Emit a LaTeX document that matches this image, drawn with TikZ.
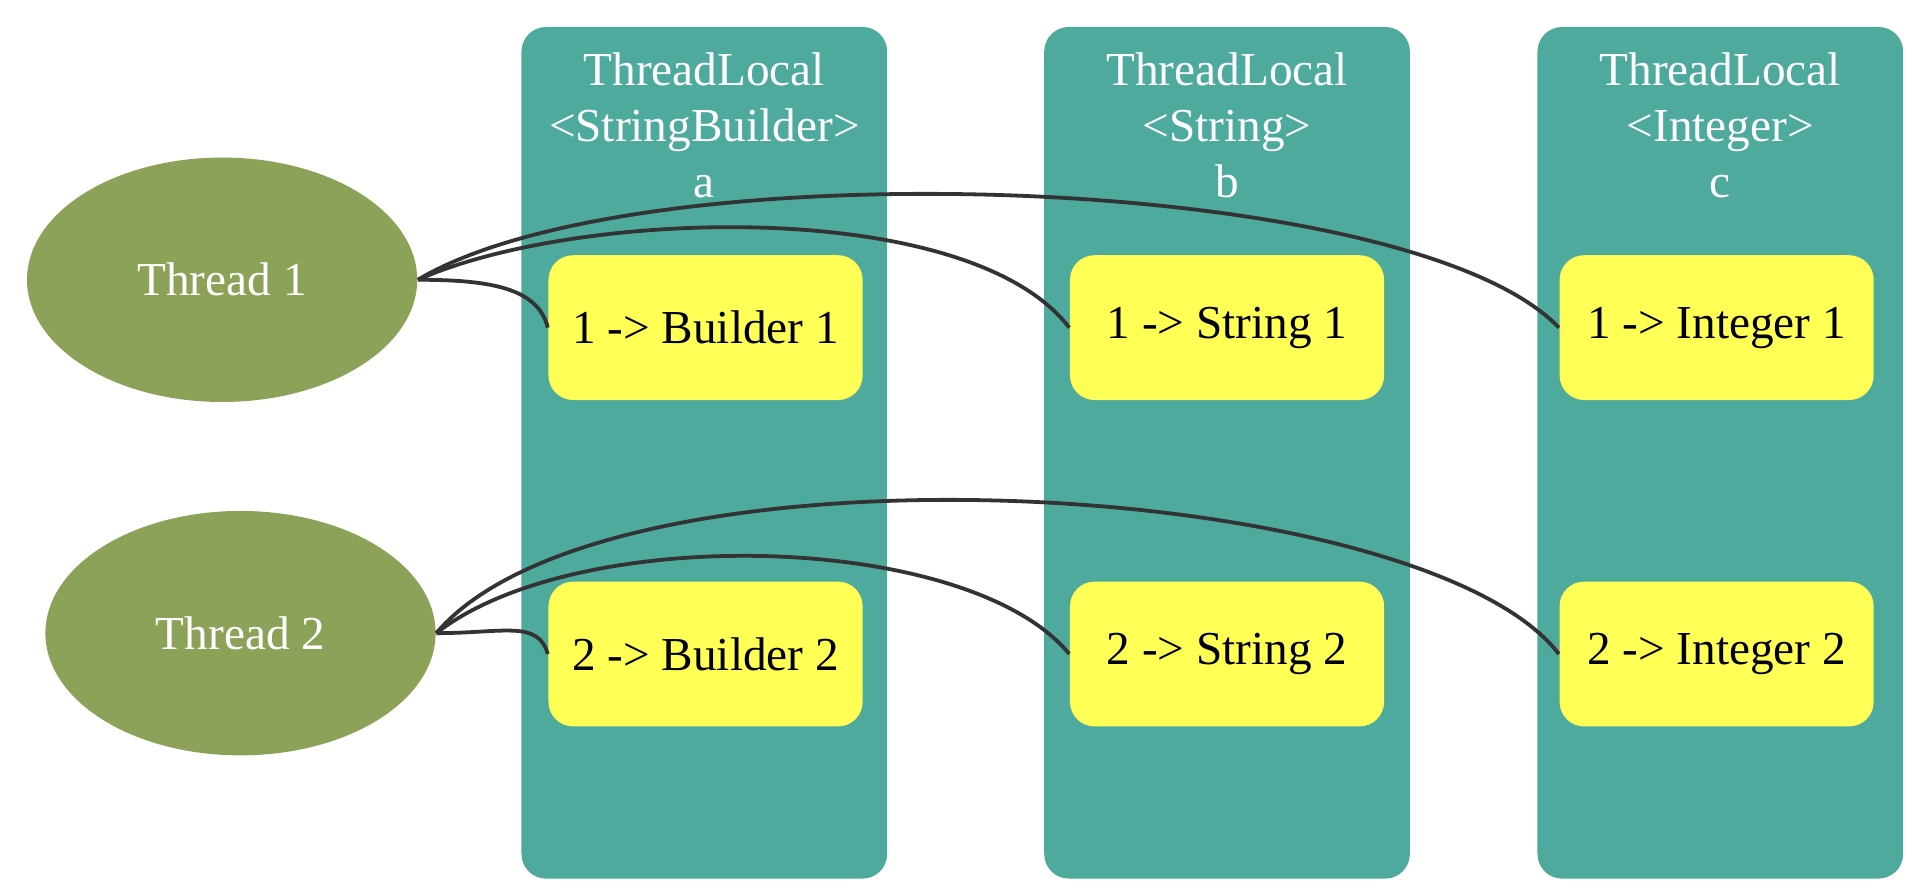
\documentclass[tikz,border=0pt]{standalone}
\usepackage{fontspec}
\setmainfont{Liberation Serif}
\usetikzlibrary{shapes.geometric, positioning}
\usepackage{xcolor}

\definecolor{tealcol}{HTML}{4DAA9D}
\definecolor{olivecol}{HTML}{8CA258}
\definecolor{entrycol}{HTML}{FFFF55}
\definecolor{linkcol}{HTML}{333333}

\begin{document}
\begin{tikzpicture}[
    x=0.125mm, y=-0.125mm,
    column/.style={rectangle, rounded corners=2.5mm, fill=tealcol, minimum width=37.25mm, minimum height=86.75mm, inner sep=0pt},
    header/.style={align=center, text=white, inner sep=0pt, font=\fontsize{13.7}{16.3}\selectfont},
    thread/.style={ellipse, fill=olivecol, minimum width=39.75mm, minimum height=24.9mm, text=white, font=\fontsize{13.7}{16}\selectfont},
    entry/.style={rectangle, rounded corners=2.5mm, fill=entrycol, minimum width=32mm, minimum height=14.75mm, font=\fontsize{13.7}{16}\selectfont},
    link/.style={draw=linkcol, line width=1.1pt}
]
    \useasboundingbox (0,0) rectangle (1568,724);

    % ThreadLocal columns
    \node[column] (cola) at (574,369) {};
    \node[column] (colb) at (1000,369) {};
    \node[column] (colc) at (1402,369) {};
    \node[header, below=2.6mm of cola.north] (hda) {ThreadLocal\\<StringBuilder>\\a};
    \node[header, below=2.6mm of colb.north] (hdb) {ThreadLocal\\<String>\\b};
    \node[header, below=2.6mm of colc.north] (hdc) {ThreadLocal\\<Integer>\\c};

    % threads
    \node[thread] (t1) at (181,228) {Thread 1};
    \node[thread] (t2) at (196,516) {Thread 2};

    % map entries
    \node[entry] (b1) at (575,267) {1 -> Builder 1};
    \node[entry] (s1) at (1000,267) {1 -> String 1};
    \node[entry] (i1) at (1399,267) {1 -> Integer 1};
    \node[entry] (b2) at (575,533) {2 -> Builder 2};
    \node[entry] (s2) at (1000,533) {2 -> String 2};
    \node[entry] (i2) at (1399,533) {2 -> Integer 2};

    \draw[link] (t1.east) .. controls +(60,0) and +(-8,-32) .. (b1.west);
    \draw[link] (t1.east) .. controls +(130,-58) and +(-82,-107) .. (s1.west);
    \draw[link] (t1.east) .. controls +(180,-108) and +(-121,-127) .. (i1.west);
    \draw[link] (t2.east) .. controls +(55,0) and +(-8,-28) .. (b2.west);
    \draw[link] (t2.east) .. controls +(115,-90) and +(-82,-100) .. (s2.west);
    \draw[link] (t2.east) .. controls +(140,-165) and +(-111,-145) .. (i2.west);
\end{tikzpicture}
\end{document}
